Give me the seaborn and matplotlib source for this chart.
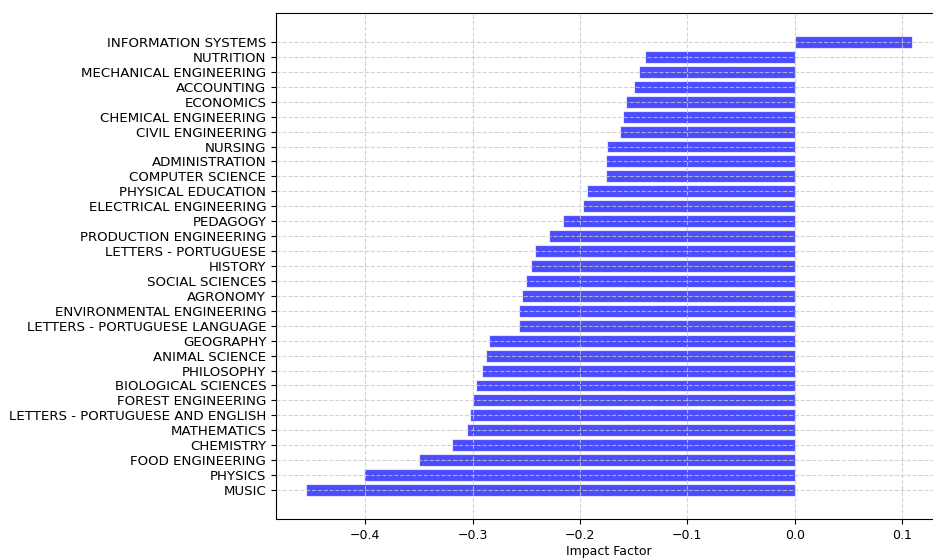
import matplotlib
matplotlib.use("Agg")
import matplotlib.pyplot as plt
import seaborn as sns
import pandas as pd

areas = [
    "INFORMATION SYSTEMS", "NUTRITION", "MECHANICAL ENGINEERING", "ACCOUNTING",
    "ECONOMICS", "CHEMICAL ENGINEERING", "CIVIL ENGINEERING", "NURSING",
    "ADMINISTRATION", "COMPUTER SCIENCE", "PHYSICAL EDUCATION",
    "ELECTRICAL ENGINEERING", "PEDAGOGY", "PRODUCTION ENGINEERING",
    "LETTERS - PORTUGUESE", "HISTORY", "SOCIAL SCIENCES", "AGRONOMY",
    "ENVIRONMENTAL ENGINEERING", "LETTERS - PORTUGUESE LANGUAGE", "GEOGRAPHY",
    "ANIMAL SCIENCE", "PHILOSOPHY", "BIOLOGICAL SCIENCES", "FOREST ENGINEERING",
    "LETTERS - PORTUGUESE AND ENGLISH", "MATHEMATICS", "CHEMISTRY",
    "FOOD ENGINEERING", "PHYSICS", "MUSIC",
]
impact = [
    0.109, -0.139, -0.145, -0.150,
    -0.157, -0.160, -0.163, -0.175,
    -0.176, -0.176, -0.193,
    -0.197, -0.216, -0.229,
    -0.242, -0.246, -0.250, -0.254,
    -0.257, -0.257, -0.285,
    -0.288, -0.291, -0.297, -0.300,
    -0.302, -0.305, -0.319,
    -0.350, -0.401, -0.455,
]

df = pd.DataFrame({"area": areas, "impact": impact})

fig = plt.figure(figsize=(9.33, 5.6), dpi=100)
ax = fig.add_axes([0.2958, 0.0732, 0.7138, 0.9036])

sns.barplot(data=df, x="impact", y="area", orient="h", color="blue",
            saturation=1, alpha=0.7, width=0.8, edgecolor="white",
            linewidth=0.8, ax=ax)

# same margins as plain matplotlib barh
n = len(areas)
span = (n - 1) + 0.8
ax.set_ylim(n - 1 + 0.4 + 0.05 * span, -0.4 - 0.05 * span)
lo, hi = min(impact), max(impact)
ax.set_xlim(lo - 0.05 * (hi - lo), hi + 0.05 * (hi - lo))

ax.grid(True, linestyle="--", color="#c8c8c8", alpha=0.8, linewidth=0.8, zorder=3)
ax.set_axisbelow(False)
ax.set_xticks([-0.4, -0.3, -0.2, -0.1, 0.0, 0.1])
ax.tick_params(axis="x", labelsize=9)
ax.tick_params(axis="y", labelsize=9.6)
ax.set_xlabel("Impact Factor", fontsize=9, labelpad=2)
ax.set_ylabel("")

fig.savefig("out.png", dpi=100)
